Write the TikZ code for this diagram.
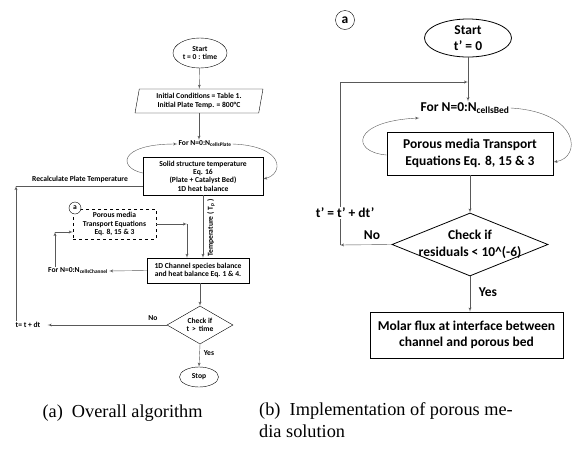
\documentclass[tikz,border=0pt]{standalone}
\usepackage{fontspec}
\setmainfont{Liberation Serif}
\newfontfamily\flowfont{Carlito}
\usetikzlibrary{shapes.geometric,arrows}

\newcommand\tinyflow{\flowfont\bfseries\fontsize{7.6}{8.4}\selectfont}
\newcommand\bigflow{\flowfont\bfseries\fontsize{13.5}{16.5}\selectfont}

\begin{document}
\begin{tikzpicture}[x=1pt,y=-1pt]
    % Define the styles for the blocks
    \tikzset{block/.style={rectangle, draw, align=center, inner sep=0pt}}
    \tikzset{term/.style={ellipse, draw, align=center, inner sep=0pt}}
    \tikzset{check/.style={diamond, draw, align=center, inner xsep=-14pt, inner ysep=-3pt}}
    \tikzset{label/.style={align=center, inner sep=1pt}}
    \tikzset{line/.style={draw, gray!70!black, -latex'}}
    \tikzset{loop/.style={draw, gray!70!black, thin, -latex'}}

    \useasboundingbox (0,0) rectangle (582,448);

    % Overall algorithm
    \begin{scope}[font=\tinyflow]
    \node[term, minimum width=54, minimum height=30] (start) at (200,53) {Start\\t = 0 : time};
    \node[trapezium, draw, trapezium left angle=74, trapezium right angle=106,
          trapezium stretches body, minimum width=128, minimum height=24, inner sep=0pt, align=center]
          (init) at (199,101) {Initial Conditions = Table 1.\\Initial Plate Temp. = 800\textdegree C};
    \node[label] (forplate) at (205,144) {For N=0:N\textsubscript{cellsPlate}};
    \node[block, minimum width=120, minimum height=38] (solid) at (203,176)
          {Solid structure temperature\\Eq. 16\\(Plate + Catalyst Bed)\\1D heat balance};
    \node[label] (recalc) at (80,179) {Recalculate Plate Temperature};
    \node[block, dashed, minimum width=83, minimum height=30] (porous) at (114.5,224)
          {Porous media\\Transport Equations\\Eq. 8, 15 \& 3};
    \node[circle, draw, fill=white, minimum size=12, inner sep=0pt] (a) at (75,208) {a};
    \node[block, minimum width=102, minimum height=25] (channel) at (198,270.5)
          {1D Channel species balance\\and heat balance Eq. 1 \& 4.};
    \node[label] (forchannel) at (78,271) {For N=0:N\textsubscript{cellsChannel}};
    \node[label, rotate=90] (temp) at (211,228) {Temperature ( T\textsubscript{p} )};
    \node[check, aspect=1.74, minimum width=66, minimum height=38] (tcheck) at (200,325) {Check if\\t \,>\, time};
    \node[label] (tdt) at (28,325) {t= t + dt};
    \node[term, minimum width=39, minimum height=20] (stop) at (199,377) {Stop};
    \node[label] (no) at (153,318) {No};
    \node[label] (yes) at (209,353) {Yes};

    \coordinate (rc) at (16,186);
    \coordinate (pc) at (187,224);
    \coordinate (fc) at (55,232);

    \draw[line] (start) -- (init);
    \draw[line] (init.south) -- (init.south |- forplate.north);
    \draw[loop] (solid.west |- 0,173) .. controls (118,168) and (118,144) .. (forplate.west);
    \draw[loop] (forplate.east) .. controls (285,146) and (284,174) .. (solid.east |- 0,179);
    \draw[line] (rc |- tdt.north) -- (rc);
    \draw[gray!70!black] (rc) -- (rc -| solid.west);
    \draw[line] (solid.south) -- (solid.south |- channel.north);
    \draw[line] (porous.east) -- (pc);
    \draw[line] (pc) -- (pc |- channel.north);
    \draw[line] (channel.west) -- (forchannel.east);
    \draw[line] (fc |- forchannel.north) -- (fc);
    \draw[line] (fc) -- (fc -| porous.west);
    \draw[line] (channel.south -| tcheck) -- (tcheck.north);
    \draw[line] (tcheck.west) -- ([xshift=6]tdt.east);
    \draw[line] (tcheck.south) -- (stop.north);
    \end{scope}

    % Porous media solution
    \begin{scope}[font=\bigflow]
    \node[circle, draw, minimum size=19, inner sep=0pt] (b) at (345,20) {a};
    \node[term, thick, inner ysep=-3pt, minimum width=87, minimum height=38] (start2) at (468,38) {Start\\t’ = 0};
    \node[label] (forbed) at (465,108) {For N=0:N\textsubscript{cellsBed}};
    \node[block, thick, minimum width=166, minimum height=43] (pme) at (470,153.5)
          {Porous media Transport\\Equations Eq. 8, 15 \& 3};
    \node[check, thick, aspect=2.5, minimum width=156, minimum height=63] (rcheck) at (470,244.5)
          {Check if\\residuals < 10\^{}(-6)};
    \node[block, thick, minimum width=193, minimum height=46] (molar) at (466.5,335)
          {Molar flux at interface between\\channel and porous bed};
    \node[label] (update) at (345,213) {t’ = t’ + dt’};
    \node[label] (no2) at (372,235) {No};
    \node[label] (yes2) at (488,292) {Yes};

    \coordinate (lp) at (340,82);
    \coordinate (np) at (340,245);

    \draw[line] (start2.south) -- (start2.south |- forbed.north);
    \draw[gray!70!black] (lp |- update.north) -- (lp);
    \draw[line] (lp) -- (lp -| start2);
    \draw[loop] (pme.west |- 0,155) .. controls (350,152) and (352,121) .. (forbed.west |- 0,118);
    \draw[loop] (forbed.east) .. controls (580,112) and (582,158) .. (pme.east |- 0,162);
    \draw[line] (pme.south) -- (rcheck.north);
    \draw[line] (rcheck.west) -- (np);
    \draw[gray!70!black] (np) -- (np |- update.south);
    \draw[line] (rcheck.south) -- (rcheck.south |- molar.north);
    \end{scope}

    % Captions
    \node[anchor=west, font=\fontsize{18.3}{22}\selectfont] (capa) at (39,413) {(a)\ \ Overall algorithm};
    \node[anchor=north west, align=left, inner sep=0pt, font=\fontsize{18.3}{22}\selectfont] (capb) at (259,402)
          {(b)\ \ Implementation of porous me-\\dia solution};
\end{tikzpicture}
\end{document}
